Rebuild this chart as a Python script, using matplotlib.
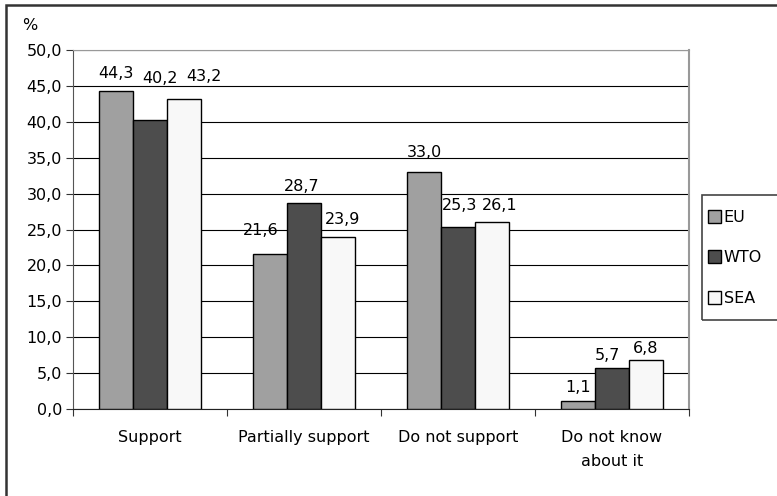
import matplotlib
matplotlib.use("Agg")
import matplotlib.pyplot as plt
import numpy as np
from matplotlib.patches import Rectangle

plt.rcParams["font.family"] = ["DejaVu Sans"]
FS = 11.5

categories = ["Support", "Partially support", "Do not support", "Do not know\nabout it"]
series = ["EU", "WTO", "SEA"]
eu = [44.3, 21.6, 33.0, 1.1]
wto = [40.2, 28.7, 25.3, 5.7]
sea = [43.2, 23.9, 26.1, 6.8]
colors = ["#a0a0a0", "#4d4d4d", "#f8f8f8"]

# label nudges in pixels (dx, height above bar top), as placed in the original
label_dx = [[0, -9, 0, 0], [10, -2, 2, -5], [20, 5, 8, 0]]
label_dy = [[17, 23, 20, 14], [42, 16, 22, 13], [22, 18, 16, 12]]

W, H = 777, 496
fig = plt.figure(figsize=(W / 100, H / 100), dpi=100)
ax = fig.add_axes([73 / W, 1 - 409 / H, (689 - 73) / W, (409 - 50) / H])

x = np.arange(len(categories))
width = 0.22
for i, (name, vals, c) in enumerate(zip(series, [eu, wto, sea], colors)):
    pos = x + (i - 1) * width
    ax.bar(pos, vals, width, color=c, edgecolor="black", linewidth=1.0, label=name, zorder=3)
    for j, (px, v) in enumerate(zip(pos, vals)):
        ax.annotate(f"{v:.1f}".replace(".", ","), (px, v), textcoords="offset pixels",
                    xytext=(label_dx[i][j], label_dy[i][j]), ha="center", va="center",
                    fontsize=FS)

ax.set_xlim(-0.5, len(categories) - 0.5)
ax.set_ylim(0, 50)
yt = np.arange(0, 51, 5)
ax.set_yticks(yt)
ax.set_yticklabels([f"{t:.1f}".replace(".", ",") for t in yt], fontsize=FS)
ax.yaxis.grid(True, color="black", linewidth=0.8, zorder=0)
ax.set_axisbelow(True)

# category labels between boundary ticks
ax.set_xticks(np.arange(len(categories) + 1) - 0.5)
ax.set_xticklabels([])
ax.set_xticks(x, minor=True)
ax.set_xticklabels(categories, minor=True, fontsize=FS, linespacing=1.8)
ax.tick_params(axis="x", which="major", length=5, direction="out", color="#333333")
ax.tick_params(axis="x", which="minor", length=0, pad=15)
ax.tick_params(axis="y", length=5, direction="out", color="#333333", pad=3)

ax.spines["left"].set_color("#555555")
ax.spines["bottom"].set_color("#222222")
ax.spines["top"].set_color("#999999")
ax.spines["right"].set_color("#999999")
ax.spines["right"].set_linewidth(1.5)

fig.text(22 / W, 1 - 26 / H, "%", fontsize=FS, va="center")

# outer frame of the chart
fig.patches.append(Rectangle((6 / W, -0.1), 1.2, 1 - 5 / H + 0.1, transform=fig.transFigure,
                             fill=False, edgecolor="#333333", linewidth=1.8))
# legend box
fig.patches.append(Rectangle((702 / W, 1 - 320 / H), 0.2, (320 - 195) / H, transform=fig.transFigure,
                             fill=False, edgecolor="#444444", linewidth=1.2))
fig.legend(loc="upper left", bbox_to_anchor=(703 / W, 1 - 205 / H), frameon=False,
           fontsize=FS, handlelength=0.85, handleheight=0.85, handletextpad=0.15,
           labelspacing=1.6, borderaxespad=0, borderpad=0.3)

fig.savefig("out.png", dpi=100)
